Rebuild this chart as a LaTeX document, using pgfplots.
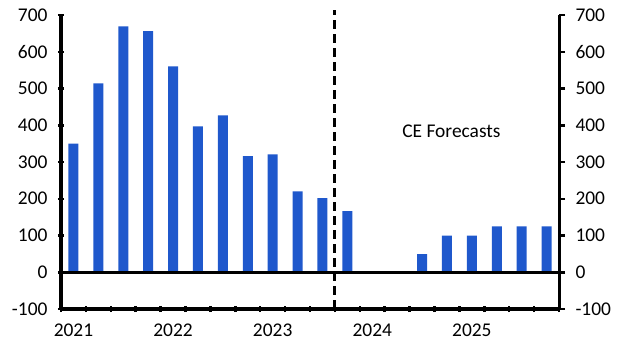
\documentclass[border=0pt]{standalone}
\usepackage{pgfplots}
\pgfplotsset{compat=1.18}
\usepackage{fontspec}
\setmainfont{Carlito}
\definecolor{barblue}{RGB}{31,88,204}
\begin{document}
\begin{tikzpicture}
\path[use as bounding box] (-61bp,-46bp) rectangle (569bp,309bp);
\pgfplotsset{
 common/.style={
  scale only axis, width=498bp, height=294bp,
  xmin=0, xmax=20, ymin=-100, ymax=700,
  ytick={-100,0,...,700},
  tick style={black, line width=2.5bp},
  major tick length=6bp,
  tick align=outside,
  ticklabel style={font=\fontsize{19.5}{19.5}\selectfont},
  /pgf/number format/assume math mode=true,
  clip=false,
 }
}
\begin{axis}[common, axis x line=bottom, axis y line=left,
  axis line style={-, line width=3bp},
  x axis line style={-, line width=3bp},
  y axis line style={-, line width=3bp},
  xtick={0,...,20}, xticklabels={},
  extra x ticks={0.5,4.5,8.5,12.5,16.5},
  extra x tick labels={2021,2022,2023,2024,2025},
  extra x tick style={major tick length=0pt},
  xticklabel style={yshift=-11bp},
  yticklabel style={xshift=-7bp}]
\addplot[ybar, bar width=10bp, fill=barblue, draw=none] coordinates {
(0.5,350) (1.5,514) (2.5,669) (3.5,656) (4.5,560) (5.5,397) (6.5,427) (7.5,316)
(8.5,321) (9.5,220) (10.5,202) (11.5,166) (14.5,49) (15.5,100) (16.5,100)
(17.5,125) (18.5,125) (19.5,125)};
\addplot[black, line width=3bp] coordinates {(0,0) (20,0)};
\addplot[black, line width=3bp, dash pattern=on 9bp off 5bp] coordinates {(11,-100) (11,714)};
\node[font=\fontsize{19.5}{19.5}\selectfont] at (axis cs:15.68,384) {CE Forecasts};
\end{axis}
\begin{axis}[common, axis y line*=right, axis x line=none,
  axis line style={-, line width=3bp},
  y axis line style={-, line width=3bp},
  yticklabel style={xshift=7bp}]
\end{axis}
\end{tikzpicture}
\end{document}
